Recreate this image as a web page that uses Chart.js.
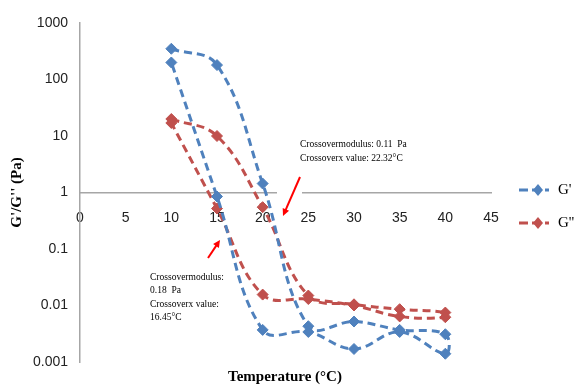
<!DOCTYPE html>
<html>
<head>
<meta charset="utf-8">
<script src="https://cdn.jsdelivr.net/npm/chart.js@4.4.1/dist/chart.umd.min.js"></script>
<style>
  html, body { margin: 0; padding: 0; background: #fff; }
  #wrap { width: 576px; height: 385px; }
</style>
</head>
<body>
<div id="wrap"><canvas id="chart-moduli"></canvas></div>
<script>
// temperature sweep goes up 10 -> 40 and back down 40 -> 10
const temps = [10, 15, 20, 25, 30, 35, 40, 40, 35, 30, 25, 20, 15, 10];
const gPrime = [350, 180, 1.44, 0.0043, 0.0052, 0.0037, 0.0031, 0.0014, 0.0034, 0.0017, 0.0034, 0.0037, 0.85, 200];
const gDouble = [20, 10, 0.55, 0.015, 0.0105, 0.0086, 0.0075, 0.0062, 0.0064, 0.0100, 0.013, 0.0156, 0.52, 17];
const xTicks = [0, 5, 10, 15, 20, 25, 30, 35, 40, 45];
const yTicks = [0.001, 0.01, 0.1, 1, 10, 100, 1000];

const BLUE = "#4f81bd";
const RED = "#c0504d";
const SERIF = "'Liberation Serif', 'DejaVu Serif', serif";
const TICK_FONT = "'Liberation Sans Narrow', 'Liberation Sans', sans-serif";

const toPoints = (ys) => temps.map((t, i) => ({ x: t, y: ys[i] }));

function drawArrow(ctx, x1, y1, x2, y2) {
  const ang = Math.atan2(y2 - y1, x2 - x1);
  ctx.beginPath();
  ctx.moveTo(x1, y1);
  ctx.lineTo(x2 - 4 * Math.cos(ang), y2 - 4 * Math.sin(ang));
  ctx.stroke();
  ctx.beginPath();
  ctx.moveTo(x2, y2);
  ctx.lineTo(x2 - 8 * Math.cos(ang - 0.45), y2 - 8 * Math.sin(ang - 0.45));
  ctx.lineTo(x2 - 8 * Math.cos(ang + 0.45), y2 - 8 * Math.sin(ang + 0.45));
  ctx.closePath();
  ctx.fill();
}

const extras = {
  id: "extras",
  beforeDatasetsDraw(chart) {
    // text box of the first note hides a bit of the axis line
    const ctx = chart.ctx;
    ctx.save();
    ctx.fillStyle = "#fff";
    ctx.fillRect(277, 189, 25, 6);
    ctx.restore();
  },
  afterDraw(chart) {
    const ctx = chart.ctx;
    ctx.save();

    // notes
    ctx.fillStyle = "#000";
    ctx.font = "9.5px " + SERIF;
    ctx.textBaseline = "middle";
    ctx.textAlign = "left";
    ctx.fillText("Crossovermodulus: 0.11  Pa", 300, 144);
    ctx.fillText("Crossoverx value: 22.32°C", 300, 158);
    ctx.fillText("Crossovermodulus:", 150, 277);
    ctx.fillText("0.18  Pa", 150, 290);
    ctx.fillText("Crossoverx value:", 150, 304);
    ctx.fillText("16.45°C", 150, 317);

    ctx.strokeStyle = "#ff0000";
    ctx.fillStyle = "#ff0000";
    ctx.lineWidth = 2;
    drawArrow(ctx, 300, 177, 283, 216);
    drawArrow(ctx, 208, 258, 220, 240);

    // legend
    chart.data.datasets.forEach((ds, i) => {
      const y = 190 + i * 33;
      ctx.strokeStyle = ds.borderColor;
      ctx.fillStyle = ds.borderColor;
      ctx.lineWidth = 3;
      ctx.setLineDash([9, 4]);
      ctx.beginPath();
      ctx.moveTo(519, y);
      ctx.lineTo(549, y);
      ctx.stroke();
      ctx.setLineDash([]);
      ctx.beginPath();
      ctx.moveTo(538, y - 6);
      ctx.lineTo(543, y);
      ctx.lineTo(538, y + 6);
      ctx.lineTo(533, y);
      ctx.closePath();
      ctx.fill();
      ctx.fillStyle = "#000";
      ctx.font = "15px " + SERIF;
      ctx.textAlign = "left";
      ctx.fillText(ds.label, 558, y);
    });

    // x title sits at the bottom, not on the crossing axis
    ctx.font = "bold 15px " + SERIF;
    ctx.textAlign = "center";
    ctx.fillText("Temperature (°C)", 285, 377);
    ctx.restore();
  },
};

new Chart(document.getElementById("chart-moduli"), {
  type: "scatter",
  data: {
    datasets: [
      {
        label: "G'",
        data: toPoints(gPrime),
        showLine: true,
        borderColor: BLUE,
        backgroundColor: BLUE,
        borderWidth: 3,
        borderDash: [8, 5],
        tension: 0.4,
        pointStyle: "rectRot",
        pointRadius: 5.5,
        pointBorderWidth: 1,
      },
      {
        label: "G''",
        data: toPoints(gDouble),
        showLine: true,
        borderColor: RED,
        backgroundColor: RED,
        borderWidth: 3,
        borderDash: [8, 5],
        tension: 0.4,
        pointStyle: "rectRot",
        pointRadius: 5.5,
        pointBorderWidth: 1,
      },
    ],
  },
  options: {
    responsive: true,
    maintainAspectRatio: false,
    animation: false,
    events: [],
    layout: { padding: { left: 0, right: 85, top: 23, bottom: 23 } },
    scales: {
      x: {
        type: "linear",
        min: 0,
        max: 45,
        position: { y: 1 },
        afterBuildTicks: (s) => { s.ticks = xTicks.map((v) => ({ value: v })); },
        afterFit: (s) => { s.height = 0; },
        grid: { display: false, drawTicks: false },
        border: { display: true, color: "#a6a6a6", width: 1.5 },
        ticks: { padding: 17, color: "#222", font: { family: TICK_FONT, size: 14 } },
      },
      y: {
        type: "logarithmic",
        min: 0.001,
        max: 1000,
        afterBuildTicks: (s) => { s.ticks = yTicks.map((v) => ({ value: v })); },
        afterFit: (s) => { s.width = 80; },
        grid: { display: false, drawTicks: false },
        border: { display: true, color: "#a6a6a6", width: 1.5 },
        ticks: { padding: 12, color: "#222", font: { family: TICK_FONT, size: 14 }, callback: (v) => String(v) },
        title: {
          display: true,
          text: "G'/G'' (Pa)",
          color: "#000",
          font: { family: SERIF, size: 15, weight: "bold" },
          padding: { top: 8, bottom: 0 },
        },
      },
    },
    plugins: {
      legend: { display: false },
      tooltip: { enabled: false },
    },
  },
  plugins: [extras],
});
</script>
</body>
</html>
